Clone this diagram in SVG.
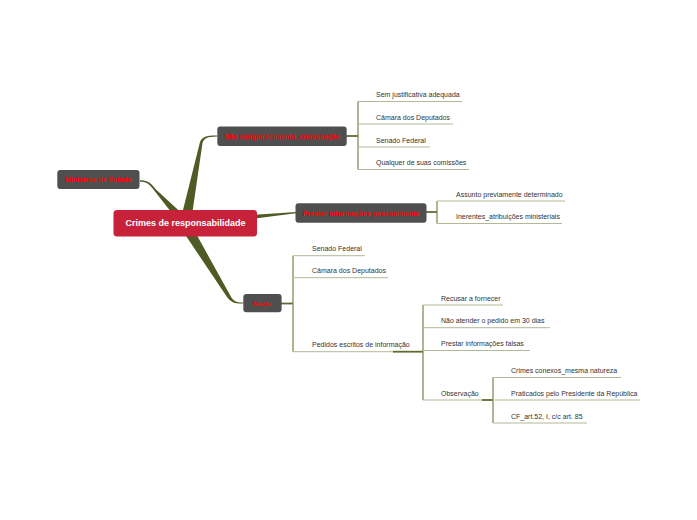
<svg xmlns="http://www.w3.org/2000/svg" width="697" height="520" viewBox="0 0 697 520">
<style>
.bg{fill:#ffffff}
.main{fill:#4f5b24}
.link{fill:none;stroke:#7a844c;stroke-width:1.2}
.uline{fill:none;stroke:#b3b897;stroke-width:1}
.thick{fill:none;stroke:#5f6b30;stroke-width:1.8}
.center rect{fill:#c8213a}
.center text{fill:#ffffff;font-family:"Liberation Sans",Arial,sans-serif;font-weight:bold;font-size:9px;text-anchor:middle}
.topic rect{fill:#4f4f4f}
.topic text{fill:#ff0000;font-family:"Liberation Sans",Arial,sans-serif;font-weight:bold;font-size:7px;text-anchor:middle}
.leaf{fill:#333333;font-family:"Liberation Sans",Arial,sans-serif;font-size:7px}
</style>
<rect class="bg" x="0" y="0" width="697" height="520"/>
<g id="connectors">
  <!-- tapered main branches -->
  <path class="main" d="M140,180.3 C147,180.3 150,182 156,189.5 L189,220 L182,226 L155,191.5 C149,183.5 147,181.7 140,181.7 Z"/>
  <path class="main" d="M180,222 L200,142 C202,137.5 205,135.6 217,135.6 L217,136.6 C207,136.8 204.5,138 202.5,143 L191,222 Z"/>
  <path class="main" d="M189,221 L230,295 C233,301 236,302.6 243,302.6 L243,303.6 C235,303.8 231,302.5 227,297 L180,227 Z"/>
  <path class="main" d="M255,214.8 L296,212 L296,213.2 L255,218.5 Z"/>
  <!-- Não comparecimento -->
  <path class="thick" d="M346,136 L358,136"/>
  <path class="link" d="M358,101.5 L358,169.5"/>
  <path class="uline" d="M358,101.5 L462,101.5 M358,124 L453,124 M358,147 L430,147 M358,169.5 L469,169.5"/>
  <!-- Prestar pessoalmente -->
  <path class="thick" d="M425,212 L437,212"/>
  <path class="link" d="M437,201 L437,223.5"/>
  <path class="uline" d="M437,201 L565,201 M437,223.5 L562,223.5"/>
  <!-- Moção -->
  <path class="thick" d="M280,303.5 L293,303.5"/>
  <path class="link" d="M293,255.7 L293,351.7"/>
  <path class="uline" d="M293,255.7 L365,255.7 M293,277.7 L388,277.7 M293,351.7 L395,351.7"/>
  <path class="thick" d="M393,351.7 L423,351.7"/>
  <!-- Pedidos -->
  <path class="link" d="M423,305 L423,400"/>
  <path class="uline" d="M423,305 L503,305 M423,327.7 L550,327.7 M423,350.5 L530,350.5 M423,400 L484,400"/>
  <path class="thick" d="M482,400 L493,400"/>
  <!-- Observação -->
  <path class="link" d="M493,377.5 L493,423"/>
  <path class="uline" d="M493,377.5 L621,377.5 M493,400 L640,400 M493,423 L587,423"/>
</g>
<g id="node-central" class="center">
  <rect x="113.5" y="210" width="143.5" height="26.5" rx="3.5"/>
  <text x="185.5" y="226.3">Crimes de responsabilidade</text>
</g>
<g id="node-ministros" class="topic">
  <rect x="57.3" y="170" width="82.2" height="19" rx="3"/>
  <text x="98.5" y="182">Ministros de Estado</text>
</g>
<g id="node-nao-comparecimento" class="topic">
  <rect x="217.3" y="126.5" width="129.4" height="19.5" rx="3"/>
  <text x="282" y="138.7">Não comparecimento_convocação</text>
</g>
<g id="node-prestar-pessoalmente" class="topic">
  <rect x="295.5" y="203.3" width="131" height="19.4" rx="3"/>
  <text x="361" y="215.5">Prestar informações pessoalmente</text>
</g>
<g id="node-mocao" class="topic">
  <rect x="243.3" y="294" width="38.3" height="18.3" rx="3"/>
  <text x="262.5" y="305.6" style="font-size:6px">Moção</text>
</g>
<g id="leaf-sem-justificativa"><text class="leaf" x="376" y="97">Sem justificativa adequada</text></g>
<g id="leaf-camara-1"><text class="leaf" x="376" y="119.5">Câmara dos Deputados</text></g>
<g id="leaf-senado-1"><text class="leaf" x="376" y="142.5">Senado Federal</text></g>
<g id="leaf-qualquer"><text class="leaf" x="376" y="165">Qualquer de suas comissões</text></g>
<g id="leaf-assunto"><text class="leaf" x="456" y="196.5">Assunto previamente determinado</text></g>
<g id="leaf-inerentes"><text class="leaf" x="456" y="219">Inerentes_atribuições ministeriais</text></g>
<g id="leaf-senado-2"><text class="leaf" x="312" y="251.2">Senado Federal</text></g>
<g id="leaf-camara-2"><text class="leaf" x="312" y="273.2">Câmara dos Deputados</text></g>
<g id="leaf-pedidos"><text class="leaf" x="312" y="347.2">Pedidos escritos de informação</text></g>
<g id="leaf-recusar"><text class="leaf" x="441" y="300.5">Recusar a fornecer</text></g>
<g id="leaf-nao-atender"><text class="leaf" x="441" y="323.2">Não atender o pedido em 30 dias</text></g>
<g id="leaf-prestar-falsas"><text class="leaf" x="441" y="346">Prestar informações falsas</text></g>
<g id="leaf-observacao"><text class="leaf" x="441" y="395.5">Observação</text></g>
<g id="leaf-crimes-conexos"><text class="leaf" x="511" y="373">Crimes conexos_mesma natureza</text></g>
<g id="leaf-praticados"><text class="leaf" x="511" y="395.5">Praticados pelo Presidente da República</text></g>
<g id="leaf-cf"><text class="leaf" x="511" y="418.5">CF_art.52, I, c/c art. 85</text></g>
</svg>
